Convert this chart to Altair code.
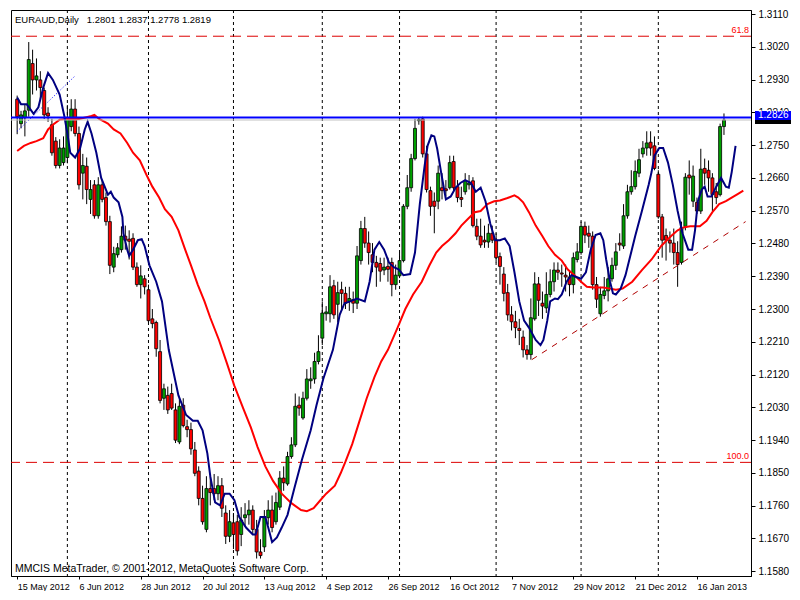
import altair as alt
import pandas as pd

# ---------------- data ----------------
opens = [1.2876,1.2809,1.2825,1.2846,1.2974,1.2929,1.2929,1.2900,1.2838,1.2806,
         1.2761,1.2694,1.2702,1.2716,1.2801,1.2849,1.2782,1.2673,1.2692,1.2601,
         1.2641,1.2556,1.2641,1.2606,1.2540,1.2415,1.2449,1.2463,1.2500,1.2492,
         1.2494,1.2415,1.2367,1.2383,1.2353,1.2273,1.2263,1.2183,1.2055,1.2063,
         1.2068,1.2023,1.1935,1.2036,1.1977,1.1969,1.1913,1.1855,1.1780,1.1695,
         1.1807,1.1807,1.1793,1.1815,1.1740,1.1676,1.1713,1.1716,1.1681,1.1727,
         1.1735,1.1748,1.1695,1.1633,1.1647,1.1727,1.1748,1.1716,1.1756,1.1836,
         1.1820,1.1895,1.1927,1.2036,1.2001,1.2055,1.2103,1.2108,1.2156,1.2220,
         1.2287,1.2287,1.2364,1.2313,1.2353,1.2343,1.2321,1.2326,1.2316,1.2433,
         1.2521,1.2481,1.2449,1.2428,1.2425,1.2407,1.2417,1.2428,1.2367,1.2391,
         1.2433,1.2582,1.2633,1.2713,1.2817,1.2822,1.2726,1.2625,1.2596,1.2596,
         1.2633,1.2630,1.2633,1.2705,1.2636,1.2606,1.2622,1.2641,1.2652,1.2527,
         1.2500,1.2489,1.2484,1.2508,1.2489,1.2444,1.2396,1.2345,1.2284,1.2265,
         1.2247,1.2223,1.2188,1.2175,1.2273,1.2369,1.2316,1.2303,1.2340,1.2375,
         1.2407,1.2399,1.2393,1.2388,1.2367,1.2436,1.2455,1.2527,1.2508,1.2500,
         1.2367,1.2287,1.2337,1.2350,1.2383,1.2420,1.2481,1.2473,1.2556,1.2622,
         1.2636,1.2673,1.2726,1.2742,1.2758,1.2748,1.2670,1.2553,1.2502,1.2489,
         1.2481,1.2455,1.2428,1.2527,1.2668,1.2596,1.2593,1.2569,1.2686,1.2681,
         1.2660,1.2622,1.2614,1.2801]
highs = [1.2886,1.2844,1.2862,1.3033,1.3012,1.2988,1.2953,1.2908,1.2854,1.2822,
         1.2772,1.2766,1.2774,1.2860,1.2876,1.2876,1.2801,1.2726,1.2716,1.2654,
         1.2654,1.2662,1.2654,1.2620,1.2556,1.2471,1.2481,1.2527,1.2529,1.2516,
         1.2508,1.2428,1.2420,1.2393,1.2367,1.2300,1.2268,1.2215,1.2095,1.2087,
         1.2095,1.2041,1.2055,1.2055,1.1996,1.1988,1.1935,1.1868,1.1815,1.1841,
         1.1841,1.1847,1.1841,1.1836,1.1761,1.1748,1.1740,1.1735,1.1756,1.1767,
         1.1775,1.1761,1.1721,1.1668,1.1748,1.1775,1.1788,1.1796,1.1855,1.1868,
         1.1908,1.1948,1.2068,1.2060,1.2073,1.2135,1.2140,1.2180,1.2228,1.2321,
         1.2308,1.2393,1.2380,1.2375,1.2375,1.2361,1.2361,1.2348,1.2473,1.2542,
         1.2553,1.2513,1.2481,1.2446,1.2441,1.2441,1.2441,1.2441,1.2422,1.2455,
         1.2588,1.2668,1.2726,1.2822,1.2825,1.2828,1.2748,1.2636,1.2620,1.2694,
         1.2673,1.2654,1.2721,1.2721,1.2654,1.2636,1.2673,1.2668,1.2662,1.2548,
         1.2548,1.2529,1.2534,1.2529,1.2508,1.2455,1.2415,1.2369,1.2308,1.2295,
         1.2273,1.2241,1.2201,1.2329,1.2401,1.2388,1.2348,1.2401,1.2409,1.2428,
         1.2428,1.2422,1.2422,1.2407,1.2455,1.2481,1.2540,1.2540,1.2529,1.2513,
         1.2388,1.2361,1.2388,1.2415,1.2441,1.2481,1.2508,1.2588,1.2641,1.2681,
         1.2708,1.2740,1.2761,1.2788,1.2788,1.2774,1.2681,1.2561,1.2521,1.2513,
         1.2521,1.2486,1.2540,1.2673,1.2708,1.2694,1.2606,1.2740,1.2713,1.2708,
         1.2673,1.2646,1.2809,1.2837]
lows = [1.2780,1.2796,1.2774,1.2828,1.2889,1.2900,1.2876,1.2822,1.2814,1.2721,
        1.2686,1.2686,1.2694,1.2700,1.2788,1.2774,1.2628,1.2601,1.2588,1.2561,
        1.2548,1.2548,1.2593,1.2529,1.2396,1.2401,1.2441,1.2455,1.2463,1.2436,
        1.2407,1.2361,1.2329,1.2340,1.2263,1.2247,1.2169,1.2041,1.2023,1.2012,
        1.2023,1.1932,1.1929,1.1975,1.1948,1.1900,1.1841,1.1761,1.1708,1.1687,
        1.1761,1.1775,1.1775,1.1729,1.1655,1.1660,1.1641,1.1623,1.1649,1.1703,
        1.1708,1.1681,1.1615,1.1615,1.1633,1.1708,1.1687,1.1708,1.1748,1.1801,
        1.1815,1.1889,1.1921,1.2007,1.1996,1.2049,1.2081,1.2095,1.2148,1.2201,
        1.2268,1.2263,1.2273,1.2263,1.2295,1.2300,1.2295,1.2289,1.2300,1.2422,
        1.2468,1.2422,1.2401,1.2361,1.2375,1.2393,1.2375,1.2335,1.2353,1.2385,
        1.2428,1.2574,1.2622,1.2708,1.2806,1.2716,1.2620,1.2556,1.2508,1.2574,
        1.2601,1.2609,1.2628,1.2622,1.2593,1.2580,1.2614,1.2628,1.2524,1.2489,
        1.2468,1.2468,1.2468,1.2481,1.2428,1.2367,1.2321,1.2268,1.2241,1.2220,
        1.2201,1.2167,1.2161,1.2161,1.2268,1.2281,1.2273,1.2289,1.2332,1.2348,
        1.2380,1.2361,1.2348,1.2335,1.2343,1.2428,1.2449,1.2481,1.2468,1.2353,
        1.2303,1.2279,1.2327,1.2321,1.2375,1.2407,1.2460,1.2465,1.2548,1.2614,
        1.2628,1.2662,1.2716,1.2721,1.2721,1.2681,1.2548,1.2441,1.2433,1.2455,
        1.2422,1.2361,1.2422,1.2516,1.2614,1.2580,1.2561,1.2561,1.2641,1.2622,
        1.2569,1.2588,1.2609,1.2778]
closes = [1.2828,1.2833,1.2844,1.2985,1.2929,1.2940,1.2908,1.2833,1.2830,1.2729,
          1.2694,1.2742,1.2742,1.2822,1.2849,1.2782,1.2641,1.2694,1.2628,1.2628,
          1.2556,1.2641,1.2601,1.2540,1.2420,1.2452,1.2468,1.2500,1.2489,1.2486,
          1.2415,1.2367,1.2391,1.2361,1.2268,1.2260,1.2191,1.2049,1.2081,1.2023,
          1.2028,1.1940,1.2033,1.1980,1.1969,1.1916,1.1849,1.1780,1.1716,1.1807,
          1.1796,1.1793,1.1815,1.1753,1.1676,1.1716,1.1681,1.1636,1.1721,1.1735,
          1.1748,1.1695,1.1633,1.1623,1.1727,1.1748,1.1700,1.1769,1.1836,1.1823,
          1.1895,1.1927,1.2033,1.2028,1.2055,1.2108,1.2108,1.2156,1.2183,1.2289,
          1.2292,1.2361,1.2284,1.2345,1.2343,1.2316,1.2329,1.2316,1.2446,1.2521,
          1.2481,1.2455,1.2428,1.2415,1.2404,1.2415,1.2409,1.2367,1.2393,1.2433,
          1.2582,1.2633,1.2713,1.2796,1.2820,1.2726,1.2628,1.2582,1.2582,1.2673,
          1.2625,1.2625,1.2702,1.2633,1.2606,1.2601,1.2652,1.2646,1.2529,1.2500,
          1.2476,1.2484,1.2508,1.2489,1.2441,1.2417,1.2343,1.2284,1.2265,1.2249,
          1.2241,1.2188,1.2175,1.2276,1.2369,1.2324,1.2308,1.2340,1.2375,1.2407,
          1.2401,1.2396,1.2388,1.2367,1.2441,1.2457,1.2527,1.2503,1.2500,1.2367,
          1.2327,1.2340,1.2350,1.2383,1.2420,1.2457,1.2476,1.2556,1.2622,1.2636,
          1.2678,1.2710,1.2742,1.2756,1.2742,1.2686,1.2553,1.2489,1.2489,1.2481,
          1.2455,1.2422,1.2524,1.2662,1.2660,1.2665,1.2569,1.2684,1.2673,1.2660,
          1.2614,1.2606,1.2801,1.2819]

# fast moving average (navy line), read as (bar, price)
fast_bar = [0,1,2.5,4.25,5.5,6.75,8,9.25,11,12.25,13,13.75,15,16.25,17.5,18.25,19.25,20.5,21.75,23.5,
            24.25,25,26.25,27.25,27.5,28.5,29,30,31.25,32.25,33,34.25,36,37.5,39.25,41.75,43.75,45.5,46.75,48,
            49.25,50,51.25,52.5,53.75,55,56.25,57.5,59.25,61,61.75,63,64.25,65,66,67.25,68.5,70,71.75,73.75,
            76,77.5,79.25,81.75,83.5,84.75,86.25,88,90,91.25,92.5,93.75,95,96.25,97.5,98.75,100,101.75,103,104.25,
            105.5,106.25,107.25,108,108.75,109.75,111,112.25,113.5,114.75,116,117.5,118.75,120,121.25,122.5,123.75,125,126.25,127.5,
            128.75,130,131.25,132.5,134.25,135.5,136.25,137.25,138,139.25,140,141,142.25,143.5,144.75,146,147.25,148.5,149.75,151,
            151.75,152.5,153.5,154.25,155,156.25,157.5,158.75,160,161.75,163.5,164.25,165,166.25,167.25,168.5,169.75,171,172.25,173.75,
            174.75,175.5,176.25,177.25,178,178.75,179.75,181,182.25,183.5,184.25,185,186]
fast_val = [1.2881,1.2862,1.2862,1.2836,1.2854,1.2908,1.2948,1.2929,1.2889,1.2828,1.2782,1.2729,1.2716,1.2740,1.2793,1.2814,1.2782,1.2729,1.2660,1.2614,
            1.2622,1.2606,1.2593,1.2553,1.2508,1.2463,1.2446,1.2463,1.2489,1.2492,1.2473,1.2420,1.2375,1.2321,1.2188,1.2063,1.2009,1.1993,1.1993,1.1967,
            1.1903,1.1841,1.1769,1.1761,1.1793,1.1793,1.1775,1.1729,1.1700,1.1681,1.1681,1.1729,1.1729,1.1700,1.1660,1.1673,1.1700,1.1735,1.1807,1.1887,
            1.1967,1.2036,1.2108,1.2188,1.2284,1.2316,1.2321,1.2329,1.2321,1.2375,1.2463,1.2484,1.2463,1.2428,1.2415,1.2409,1.2393,1.2396,1.2455,1.2588,
            1.2694,1.2748,1.2777,1.2774,1.2740,1.2676,1.2601,1.2609,1.2633,1.2646,1.2654,1.2646,1.2622,1.2633,1.2596,1.2534,1.2489,1.2489,1.2494,1.2473,
            1.2401,1.2321,1.2268,1.2249,1.2215,1.2201,1.2215,1.2268,1.2321,1.2329,1.2327,1.2340,1.2375,1.2393,1.2388,1.2383,1.2401,1.2463,1.2503,1.2508,
            1.2489,1.2436,1.2375,1.2343,1.2340,1.2356,1.2393,1.2446,1.2500,1.2569,1.2641,1.2676,1.2721,1.2742,1.2742,1.2702,1.2641,1.2569,1.2508,1.2463,
            1.2463,1.2516,1.2596,1.2628,1.2636,1.2609,1.2609,1.2636,1.2660,1.2636,1.2633,1.2676,1.2748]

# slow moving average (red line), read as (bar, price)
slow_bar = [0,1.75,3.5,5,6.75,8,9.25,11,12.5,16,19.25,20,21.25,23.5,25,26.75,28.5,30,31.75,33.5,
            35,36.75,38.25,40,41.75,43.5,45,46.75,48.5,50,52.25,54.25,56.25,58.5,60.5,62.25,64.25,66.25,68.5,71,
            73.5,75,76.75,78.5,80,82.25,83.75,85,86.75,88.5,90.5,92.5,94.25,96,98.5,100.5,102.5,104.75,106.75,108.5,
            110,111.75,113.5,115,116.75,118.5,120,121.75,123.5,125,126.75,128.75,129.75,131,132.5,134.25,136,137.5,139.25,141,
            142.5,144.25,146,147.5,149.25,151.75,153.5,155,156.75,159.25,161.75,164.25,166.75,169.25,171,172.5,174.25,176.75,178.5,180,
            181.75,183.5,185,186.75,188]
slow_val = [1.2734,1.2748,1.2756,1.2761,1.2769,1.2793,1.2806,1.2820,1.2822,1.2822,1.2830,1.2833,1.2822,1.2809,1.2793,1.2782,1.2756,1.2729,1.2708,1.2668,
            1.2636,1.2606,1.2574,1.2553,1.2516,1.2463,1.2420,1.2367,1.2321,1.2276,1.2215,1.2153,1.2089,1.2028,1.1975,1.1921,1.1868,1.1828,1.1793,1.1767,
            1.1748,1.1745,1.1753,1.1775,1.1793,1.1815,1.1849,1.1881,1.1929,1.1988,1.2055,1.2113,1.2156,1.2188,1.2249,1.2300,1.2340,1.2375,1.2420,1.2455,
            1.2473,1.2489,1.2508,1.2529,1.2548,1.2566,1.2569,1.2588,1.2596,1.2598,1.2604,1.2612,1.2606,1.2593,1.2566,1.2529,1.2500,1.2473,1.2449,1.2433,
            1.2409,1.2393,1.2375,1.2361,1.2359,1.2359,1.2356,1.2353,1.2356,1.2375,1.2407,1.2436,1.2473,1.2500,1.2516,1.2524,1.2527,1.2527,1.2542,1.2566,
            1.2588,1.2596,1.2606,1.2617,1.2625]

# date labels every 16 bars, month-start grid bars
date_labels = ["15 May 2012", "6 Jun 2012", "28 Jun 2012", "20 Jul 2012", "13 Aug 2012", "4 Sep 2012",
               "26 Sep 2012", "16 Oct 2012", "7 Nov 2012", "29 Nov 2012", "21 Dec 2012", "16 Jan 2013"]
date_label_bars = [0, 16, 32, 48, 64, 80, 96, 112, 128, 144, 160, 176]
grid_bars = [13, 34, 56, 79, 99, 124, 146, 166]
price_ticks = [1.1580, 1.1670, 1.1760, 1.1850, 1.1940, 1.2030, 1.2120, 1.2210, 1.2300, 1.2390,
               1.2480, 1.2570, 1.2660, 1.2750, 1.2840, 1.2930, 1.3020, 1.3110]

fib_levels = [1.3049, 1.1879]
fib_names = ["61.8", "100.0"]
hline_price = 1.2826   # blue horizontal line
bid_price = 1.2819     # grey bid line
blue_trend_bar = [0, 15]
blue_trend_val = [1.2788, 1.2940]
red_trend_bar = [133.25, 188.6]
red_trend_val = [1.2161, 1.2540]
header_text = "EURAUD,Daily\u00a0\u00a0 1.2801 1.2837 1.2778 1.2819"
footer_text = "MMCIS MetaTrader, \u00a9 2001-2012, MetaQuotes Software Corp."

# ---------------- chart ----------------
W, H = 740, 566
FONT = "Liberation Sans"
xs = alt.Scale(domain=[-0.3, 188.7], nice=False, zero=False)
ys = alt.Scale(domain=[1.1567, 1.3121], nice=False, zero=False)

candles = pd.DataFrame({"bar": list(range(len(opens))), "open": opens, "high": highs,
                        "low": lows, "close": closes})
candles["fill"] = ["#00a000" if c >= o else "#ff0000" for o, c in zip(opens, closes)]

label_expr = "[" + ",".join("'%s'" % s for s in date_labels) + "][round(datum.value / 16)]"

XA = alt.Axis(orient="bottom", values=date_label_bars, labelExpr=label_expr, labelAlign="left",
              tickSize=3, labelPadding=3, labelFlush=False, labelOverlap=False, title=None,
              grid=False, domainColor="black", tickColor="black", labelFont=FONT,
              labelFontSize=9, labelColor="black", labelBound=False)
YA = alt.Axis(orient="right", values=price_ticks, format=".4f", tickSize=4, labelPadding=3,
              title=None, grid=False, domainColor="black", tickColor="black", labelFont=FONT,
              labelFontSize=10, labelColor="black", labelOverlap=False)


def X(field):
    return alt.X(field, scale=xs, axis=XA, title=None)


def Y(field):
    return alt.Y(field, scale=ys, axis=YA, title=None)


grid = alt.Chart(pd.DataFrame({"bar": grid_bars})).mark_rule(
    color="black", strokeDash=[3, 3], strokeWidth=1).encode(x=X("bar:Q"))

fib = alt.Chart(pd.DataFrame({"p": fib_levels, "name": fib_names}))
fib_lines = fib.mark_rule(color="#dd0000", strokeDash=[11, 6], strokeWidth=1).encode(y=Y("p:Q"))
fib_text = fib.mark_text(align="right", baseline="bottom", dy=-1, color="#ff0000",
                         font=FONT, fontSize=9).encode(
    x=alt.value(W - 2), y=Y("p:Q"), text="name:N")

wicks = alt.Chart(candles).mark_rule(color="black", strokeWidth=1).encode(
    x=X("bar:Q"), y=Y("low:Q"), y2="high:Q")
bodies = alt.Chart(candles).mark_bar(size=3, stroke="black", strokeWidth=0.8).encode(
    x=X("bar:Q"), y=Y("open:Q"), y2="close:Q",
    fill=alt.Fill("fill:N", scale=None))

fast = alt.Chart(pd.DataFrame({"bar": fast_bar, "v": fast_val})).mark_line(
    color="#000080", strokeWidth=2).encode(x=X("bar:Q"), y=Y("v:Q"))
slow = alt.Chart(pd.DataFrame({"bar": slow_bar, "v": slow_val})).mark_line(
    color="#ff0000", strokeWidth=2).encode(x=X("bar:Q"), y=Y("v:Q"))

btrend = alt.Chart(pd.DataFrame({"bar": blue_trend_bar, "v": blue_trend_val})).mark_line(
    color="#0000ff", strokeDash=[1, 2], strokeWidth=1).encode(x=X("bar:Q"), y=Y("v:Q"))
rtrend = alt.Chart(pd.DataFrame({"bar": red_trend_bar, "v": red_trend_val})).mark_line(
    color="#b00000", strokeDash=[6, 6], strokeWidth=1).encode(x=X("bar:Q"), y=Y("v:Q"))

bid_line = alt.Chart(pd.DataFrame({"p": [bid_price]})).mark_rule(
    color="#c0c0c0", strokeWidth=1).encode(y=Y("p:Q"))
blue_line = alt.Chart(pd.DataFrame({"p": [hline_price]})).mark_rule(
    color="#0000ff", strokeWidth=2).encode(y=Y("p:Q"))

bid_tag = alt.Chart(pd.DataFrame({"p": [bid_price]})).transform_calculate(
    top="datum.p + 0.0016", bot="datum.p - 0.0011").mark_rect(color="black").encode(
    x=alt.value(W + 4), x2=alt.value(W + 40), y=Y("top:Q"), y2="bot:Q")
blue_tag = alt.Chart(pd.DataFrame({"p": [hline_price]})).transform_calculate(
    top="datum.p + 0.0018", bot="datum.p - 0.0007").mark_rect(color="#0000ff").encode(
    x=alt.value(W + 4), x2=alt.value(W + 40), y=Y("top:Q"), y2="bot:Q")
blue_tag_text = alt.Chart(pd.DataFrame({"p": [hline_price], "t": ["%.4f" % hline_price]})).mark_text(
    align="left", baseline="middle", dy=-2, color="white", font=FONT, fontSize=10).encode(
    x=alt.value(W + 7), y=Y("p:Q"), text="t:N")

header = alt.Chart(pd.DataFrame({"t": [header_text]})).mark_text(
    align="left", baseline="alphabetic", font=FONT, fontSize=9.5, color="black").encode(
    x=alt.value(4), y=alt.value(13), text="t:N")
footer = alt.Chart(pd.DataFrame({"t": [footer_text]})).mark_text(
    align="left", baseline="alphabetic", font=FONT, fontSize=10.5, color="black").encode(
    x=alt.value(4), y=alt.value(H - 4), text="t:N")

chart = alt.layer(
    wicks, grid, fib_lines, fib_text, rtrend, btrend, bodies, slow, fast,
    bid_line, blue_line, bid_tag, blue_tag, blue_tag_text, header, footer
).properties(
    width=W, height=H,
    padding={"left": 2, "top": 1, "right": 0, "bottom": 0},
    background="white"
).configure_view(stroke="black", strokeWidth=1)

chart.save("out.html", embed_options={"renderer": "svg", "actions": False})
